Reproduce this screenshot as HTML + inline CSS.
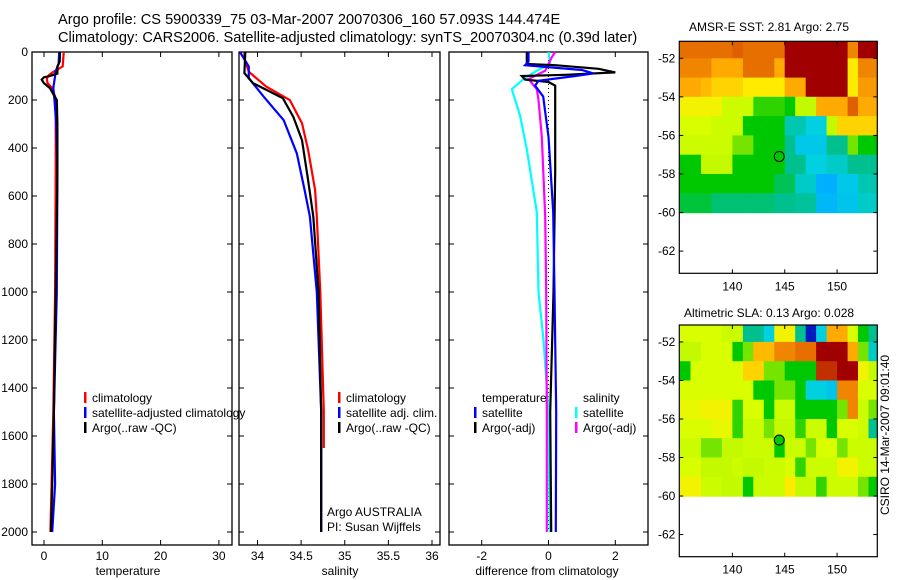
<!DOCTYPE html>
<html><head><meta charset="utf-8">
<style>
html,body{margin:0;padding:0;background:#fff;}
svg{display:block;font-family:"Liberation Sans",sans-serif;}
text{font-size:12px;fill:#000;}
</style></head>
<body>
<svg id="fig" width="900" height="580" viewBox="0 0 900 580" xmlns="http://www.w3.org/2000/svg">
<text x="58" y="24" style="font-size:14.6px">Argo profile: CS 5900339_75 03-Mar-2007 20070306_160 57.093S 144.474E</text>
<text x="58" y="42" style="font-size:14.6px">Climatology: CARS2006. Satellite-adjusted climatology: synTS_20070304.nc (0.39d later)</text>
<text x="128" y="575" text-anchor="middle">temperature</text>
<text x="340" y="575" text-anchor="middle">salinity</text>
<text x="547" y="575" text-anchor="middle">difference from climatology</text>
<text x="769" y="31" text-anchor="middle">AMSR-E SST: 2.81 Argo: 2.75</text>
<text x="769" y="317" text-anchor="middle">Altimetric SLA: 0.13 Argo: 0.028</text>
<text transform="translate(889,435) rotate(-90)" text-anchor="middle">CSIRO 14-Mar-2007 09:01:40</text>
<g id="plots"></g>
</svg>
<script>
// ---- profile data ----
const depthTicks = [0,200,400,600,800,1000,1200,1400,1600,1800,2000];
const tempTicks = [0,10,20,30];
const salTicks = [34,34.5,35,35.5,36];
const diffTicks = [-2,0,2];
const tempClimDepth = [0,30,60,80,95,110,130,150,200,300,500,1000,1500,1900,2000];
const tempClimVal   = [3.4,3.3,3.2,1.8,0.9,0.5,0.6,1.4,2.1,2.0,2.0,1.9,1.6,1.2,1.1];
const tempArgoDepth = [0,40,60,90,100,105,115,130,150,180,200,300,500,1000,1500,1800,2000];
const tempArgoVal   = [2.75,2.7,2.3,2.3,1.0,0.0,-0.4,0.0,1.0,1.7,2.2,2.3,2.3,2.0,1.7,1.4,1.2];
const tempSatDepth = [0,50,80,100,150,200,300,500,1000,1500,1800,2000];
const tempSatVal   = [2.6,2.5,2.0,1.9,1.6,1.8,2.1,2.3,2.2,1.7,1.9,1.4];
const salClimDepth = [0,28,82,144,200,297,408,575,686,1000,1500,1650];
const salClimVal   = [33.85,33.85,33.9,34.1,34.37,34.51,34.58,34.66,34.68,34.72,34.76,34.76];
const salArgoDepth = [0,88,130,192,270,367,534,686,1000,1500,2000];
const salArgoVal   = [33.86,33.85,33.95,34.29,34.41,34.51,34.58,34.64,34.7,34.73,34.73];
const salSatDepth = [0,61,109,186,284,422,575,686,1000,1500,2000];
const salSatVal   = [33.8,33.9,33.9,34.07,34.3,34.45,34.54,34.6,34.68,34.73,34.73];
const dTempArgoDepth = [0,50,55,70,85,95,100,115,125,140,200,500,1000,1500,2000];
const dTempArgoVal   = [-0.65,-0.65,0.2,1.5,2.0,0.5,-0.8,-0.7,0.0,0.2,0.2,0.2,0.15,0.05,0.08];
const dTempSatDepth = [0,40,55,75,89,100,120,140,186,250,353,667,1000,1500,2000];
const dTempSatVal   = [-0.6,-0.6,-0.7,1.0,1.34,0.8,-0.3,-0.4,-0.16,-0.1,0.0,0.14,0.18,0.23,0.22];
const dSalSatDepth = [0,50,78,113,155,266,405,667,1000,1200,1500,2000];
const dSalSatVal   = [0.0,0.05,-0.35,-0.75,-1.1,-0.85,-0.65,-0.35,-0.3,-0.15,0.0,0.04];
const dSalArgoDepth = [0,22,78,113,155,200,353,686,1000,1500,2000];
const dSalArgoVal   = [0.2,0.1,-0.1,-0.6,-0.35,-0.3,-0.2,-0.1,-0.07,-0.05,-0.05];
// ---- map data (rows lat -51..-60, cols lon 135..153) ----
const mapLonTicks = [140,145,150];
const mapLatTicks = [-52,-54,-56,-58,-60,-62];
const floatLon = 144.474, floatLat = -57.093;
const sstGrid = [
[.88,.88,.88,.88,.88,.9,.88,.88,.88,.88,1,1,1,1,1,1,.85,1,1],
[.85,.85,.85,.8,.8,.8,.88,.88,.88,.8,1,1,1,1,1,1,.72,.85,.85],
[.8,.8,.78,.75,.75,.75,.72,.72,.72,.72,.8,.8,1,1,1,1,.72,.82,.82],
[.7,.7,.7,.7,.62,.62,.62,.52,.52,.52,.5,.6,.6,.8,.8,.8,.9,.8,.8],
[.65,.65,.65,.62,.62,.62,.5,.5,.5,.5,.42,.42,.38,.38,.6,.75,.75,.75,.75],
[.62,.62,.62,.62,.62,.55,.55,.5,.5,.5,.45,.36,.36,.36,.45,.45,.55,.5,.5],
[.5,.5,.6,.6,.6,.5,.5,.5,.5,.5,.45,.45,.38,.38,.4,.4,.45,.45,.45],
[.5,.5,.5,.5,.5,.5,.5,.5,.5,.47,.47,.4,.4,.3,.3,.36,.36,.42,.42],
[.48,.48,.48,.46,.46,.46,.46,.46,.46,.45,.45,.44,.44,.32,.32,.35,.35,.4,.4]];
const slaGrid = [
[.65,.65,.65,.65,.62,.62,.45,.45,.38,.7,.7,.45,.05,.38,.8,.8,.65,.5,.45],
[.6,.6,.65,.65,.65,.5,.55,.78,.78,.85,.85,.88,.88,1,1,1,.8,.55,.4],
[.5,.65,.65,.65,.65,.65,.75,.75,.55,.55,.5,.5,.5,.95,.95,1,1,.7,.6],
[.65,.65,.65,.65,.65,.65,.65,.5,.5,.55,.55,.5,.38,.38,.35,.85,.85,.65,.65],
[.68,.68,.7,.7,.7,.52,.65,.65,.5,.62,.62,.5,.5,.5,.5,.55,.85,.62,.55],
[.65,.65,.65,.68,.68,.52,.62,.62,.55,.6,.6,.52,.62,.62,.5,.65,.65,.62,.45],
[.62,.62,.55,.55,.6,.6,.62,.62,.62,.5,.62,.62,.55,.65,.65,.55,.62,.62,.62],
[.65,.65,.6,.6,.6,.62,.6,.6,.62,.62,.65,.52,.62,.62,.62,.7,.7,.62,.62],
[.7,.7,.62,.62,.6,.6,.5,.62,.62,.62,.72,.6,.6,.52,.62,.62,.62,.55,.5]];

const NS="http://www.w3.org/2000/svg";
const root=document.getElementById('plots');
function mk(tag,attrs,parent){const e=document.createElementNS(NS,tag);for(const k in attrs)e.setAttribute(k,attrs[k]);(parent||root).appendChild(e);return e;}
const yD = d => 52 + d*0.24;
const xT = v => 44 + v*5.83;
const xS = v => 257.5 + (v-34)*87.25;
const xDf = v => 548.5 + v*33.4;
const TOP=52, BOT=545;

function panel(name,x0,x1,xf,xt,showY){
  const g=mk('g',{});
  
  
  const r=mk('rect',{x:x0,y:TOP,width:x1-x0,height:BOT-TOP,fill:'none',stroke:'#000','stroke-width':1.3},g);
  
  
  depthTicks.forEach(d=>{
    const y=yD(d);
    mk('line',{x1:x0,x2:x0+5,y1:y,y2:y,stroke:'#000'},g);
    mk('line',{x1:x1,x2:x1-5,y1:y,y2:y,stroke:'#000'},g);
    if(showY){const t=mk('text',{x:x0-4,y:y+4,'text-anchor':'end'},g);t.textContent=d;
      
      }
  });
  xt.forEach(v=>{
    const x=xf(v);
    mk('line',{x1:x,x2:x,y1:TOP,y2:TOP+5,stroke:'#000'},g);
    mk('line',{x1:x,x2:x,y1:BOT,y2:BOT-5,stroke:'#000'},g);
    const t=mk('text',{x:x,y:BOT+15,'text-anchor':'middle'},g);t.textContent=v;
    
    
  });
  return g;
}
function line(g,name,ds,vs,xf,col,dash){
  const pts=ds.map((d,i)=>xf(vs[i]).toFixed(1)+','+yD(d).toFixed(1)).join(' ');
  const p=mk('polyline',{points:pts,fill:'none',stroke:col,'stroke-width':dash?1:2.2,'stroke-dasharray':dash||'none'},g);
  
  
}
function legend(g,x,y,col,label,name){
  if(col){mk('rect',{x:x,y:y-10,width:2.5,height:11,fill:col},g);}
  const t=mk('text',{x:x+8,y:y},g);t.textContent=label;
  
  
}

const p1=panel('temperature-panel',32,232,xT,tempTicks,true);
line(p1,'temp-climatology-line',tempClimDepth,tempClimVal,xT,'#f00');
line(p1,'temp-satellite-line',tempSatDepth,tempSatVal,xT,'#00f');
line(p1,'temp-argo-line',tempArgoDepth,tempArgoVal,xT,'#000');
legend(p1,84,402,'#f00','climatology','legend-climatology');
legend(p1,84,417,'#00f','satellite-adjusted climatology','legend-satellite-adjusted');
legend(p1,84,432,'#000','Argo(..raw -QC)','legend-argo');

const p2=panel('salinity-panel',239,440,xS,salTicks,false);
line(p2,'sal-climatology-line',salClimDepth,salClimVal,xS,'#f00');
line(p2,'sal-satellite-line',salSatDepth,salSatVal,xS,'#00f');
line(p2,'sal-argo-line',salArgoDepth,salArgoVal,xS,'#000');
legend(p2,338,402,'#f00','climatology','legend-sal-climatology');
legend(p2,338,417,'#00f','satellite adj. clim.','legend-sal-satellite');
legend(p2,338,432,'#000','Argo(..raw -QC)','legend-sal-argo');
legend(p2,319,516,null,'Argo AUSTRALIA','argo-australia-label');
legend(p2,319,531,null,'PI: Susan Wijffels','pi-label');

const p3=panel('difference-panel',449,648,xDf,diffTicks,false);
line(p3,'zero-line',[0,2000],[0,0],xDf,'#000','1,3');
line(p3,'dsal-satellite-line',dSalSatDepth,dSalSatVal,xDf,'#0ff');
line(p3,'dsal-argo-line',dSalArgoDepth,dSalArgoVal,xDf,'#f0f');
line(p3,'dtemp-argo-line',dTempArgoDepth,dTempArgoVal,xDf,'#000');
line(p3,'dtemp-satellite-line',dTempSatDepth,dTempSatVal,xDf,'#00f');
legend(p3,474,402,null,'temperature','legend-temperature-heading');
legend(p3,474,417,'#00f','satellite','legend-dtemp-satellite');
legend(p3,474,432,'#000','Argo(-adj)','legend-dtemp-argo');
legend(p3,575,402,null,'salinity','legend-salinity-heading');
legend(p3,575,417,'#0ff','satellite','legend-dsal-satellite');
legend(p3,575,432,'#f0f','Argo(-adj)','legend-dsal-argo');

// colormap
const stops=[[0,[0,0,160]],[0.15,[0,80,255]],[0.3,[0,176,255]],[0.38,[0,208,224]],[0.45,[0,192,144]],[0.5,[0,200,0]],[0.56,[140,235,0]],[0.6,[195,250,0]],[0.66,[220,255,0]],[0.72,[255,235,0]],[0.8,[255,170,0]],[0.9,[224,96,0]],[1,[160,0,0]]];
function cmap(v){for(let i=1;i<stops.length;i++){if(v<=stops[i][0]){const a=stops[i-1],b=stops[i],t=(v-a[0])/(b[0]-a[0]);const c=a[1].map((x,k)=>Math.round(x+(b[1][k]-x)*t));return 'rgb('+c.join(',')+')';}}return 'rgb(160,0,0)';}

function map(name,top,bot,latTop,grid,filled){
  const L=679.3,R=877.3;
  const xl=lon=>L+(lon-134.93)*10.47;
  const yl=lat=>top+(latTop-lat)*(bot-top)/(latTop+63.15);
  const g=mk('g',{});
  
  
  const cid=name+'-clip';
  const cp=mk('clipPath',{id:cid},g);mk('rect',{x:L,y:top,width:R-L,height:bot-top},cp);
  const cells=mk('g',{'clip-path':'url(#'+cid+')'},g);
  grid.forEach((row,r)=>row.forEach((v,c)=>{
    const x=xl(135+c),y=yl(-51-r);
    const cell=mk('rect',{x:x.toFixed(1),y:y.toFixed(1),width:(xl(136+c)-x+0.6).toFixed(1),height:(yl(-52-r)-y+0.6).toFixed(1),fill:cmap(v)},cells);
    
    
    if(r===0){const c2=mk('rect',{x:x.toFixed(1),y:top-2,width:(xl(136+c)-x+0.6).toFixed(1),height:(y-top+3).toFixed(1),fill:cmap(v)},cells);
      
      }
  }));
  mk('rect',{x:L,y:top,width:R-L,height:bot-top,fill:'none',stroke:'#000','stroke-width':1.2},g);
  mapLatTicks.forEach(lat=>{const y=yl(lat);
    mk('line',{x1:L,x2:L+4,y1:y,y2:y,stroke:'#000'},g);mk('line',{x1:R,x2:R-4,y1:y,y2:y,stroke:'#000'},g);
    const t=mk('text',{x:L-4,y:y+4,'text-anchor':'end'},g);t.textContent=lat;
    
    });
  mapLonTicks.forEach(lon=>{const x=xl(lon);
    mk('line',{x1:x,x2:x,y1:top,y2:top+4,stroke:'#000'},g);mk('line',{x1:x,x2:x,y1:bot,y2:bot-4,stroke:'#000'},g);
    const t=mk('text',{x:x,y:bot+17,'text-anchor':'middle'},g);t.textContent=lon;
    
    });
  const m=mk('circle',{cx:xl(floatLon),cy:yl(floatLat),r:5,fill:filled?'#00c800':'none',stroke:'#000','stroke-width':1},g);
  
  
}
map('sst-map',41.3,273.3,-51.12,sstGrid,false);
map('sla-map',325,556.7,-51.12,slaGrid,true);
</script>
</body></html>
